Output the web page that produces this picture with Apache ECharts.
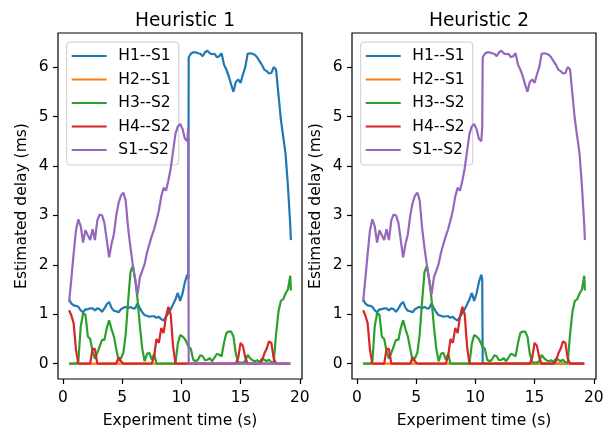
<!DOCTYPE html>
<html>
<head>
<meta charset="utf-8">
<script src="https://cdn.jsdelivr.net/npm/echarts@6/dist/echarts.min.js"></script>
<style>
html,body{margin:0;padding:0;background:#fff;}
#c{width:613px;height:434px;}
</style>
</head>
<body>
<div id="c"></div>
<script>
// ---- data ----
const seriesNames = ['H1--S1', 'H2--S1', 'H3--S2', 'H4--S2', 'S1--S2'];
const panelTitles = ['Heuristic 1', 'Heuristic 2'];
const xTicks = [0, 5, 10, 15, 20];
const yTicks = [0, 1, 2, 3, 4, 5, 6];

// experiment time (s)
const time = [
  0.52, 0.7, 0.9, 1.1, 1.3, 1.5, 1.7, 1.9, 2.1, 2.3, 2.5, 2.7, 2.9, 3.1, 3.3, 3.5, 3.7, 3.9, 4.1, 4.3,
  4.5, 4.7, 4.9, 5.1, 5.3, 5.5, 5.7, 5.9, 6.1, 6.3, 6.5, 6.7, 6.9, 7.1, 7.3, 7.5, 7.7, 7.9, 8.1, 8.3,
  8.5, 8.7, 8.9, 9.1, 9.3, 9.5, 9.7, 9.9, 10.1, 10.3, 10.5, 10.58,
  10.62, 10.8, 11.0, 11.2, 11.4, 11.6, 11.8, 12.0, 12.2, 12.4, 12.6, 12.8, 13.0, 13.2, 13.4, 13.6, 13.8,
  14.0, 14.2, 14.4, 14.6, 14.8, 15.0, 15.2, 15.4, 15.6, 15.8, 16.0, 16.2, 16.4, 16.6, 16.8, 17.0, 17.2,
  17.4, 17.6, 17.8, 18.0, 18.2, 18.4, 18.6, 18.8, 19.0, 19.2, 19.25
];

// H1--S1 before the switch (t <= 10.58)
const h1s1Early = [
  1.30, 1.22, 1.18, 1.17, 1.15, 1.08, 1.04, 1.10, 1.10, 1.12, 1.12, 1.08, 1.12, 1.10, 1.05, 1.12, 1.20, 1.25, 1.13, 1.07,
  1.06, 1.04, 1.10, 1.13, 1.15, 1.12, 1.15, 1.12, 1.12, 1.22, 1.12, 1.04, 0.98, 0.97, 0.95, 0.96, 0.96, 0.93, 0.95, 0.90,
  0.87, 0.95, 1.02, 1.10, 1.20, 1.30, 1.43, 1.27, 1.42, 1.65, 1.80, 1.72
];
// S1--S2 before the switch
const s1s2Early = [
  1.25, 1.70, 2.22, 2.70, 2.92, 2.78, 2.45, 2.70, 2.60, 2.50, 2.72, 2.50, 2.90, 3.02, 3.00, 2.85, 2.50, 2.15, 2.42, 2.62,
  3.00, 3.25, 3.40, 3.46, 3.30, 2.75, 2.35, 2.00, 1.70, 1.40, 1.75, 1.88, 2.02, 2.25, 2.42, 2.58, 2.72, 2.90, 3.10, 3.38,
  3.56, 3.50, 3.70, 3.95, 4.30, 4.65, 4.80, 4.85, 4.75, 4.55, 4.50, 4.78
];
// the high-delay path after the switch (t >= 10.62)
const switchedLate = [
  6.20, 6.27, 6.30, 6.30, 6.28, 6.27, 6.22, 6.30, 6.33, 6.28, 6.26, 6.27, 6.20, 6.22, 6.28, 6.05, 5.95,
  5.82, 5.65, 5.50, 5.70, 5.75, 5.68, 5.85, 6.00, 6.27, 6.28, 6.27, 6.25, 6.20, 6.12, 6.05, 5.95, 5.92,
  5.87, 5.88, 6.00, 5.95, 5.45, 4.95, 4.60, 4.25, 3.60, 2.80, 2.50
];
// the idle path after the switch
const idleLate = [
  0, 0, 0, 0, 0, 0, 0, 0, 0, 0, 0, 0, 0, 0, 0, 0, 0,
  0, 0, 0, 0, 0, 0, 0, 0, 0, 0, 0, 0, 0, 0, 0, 0, 0,
  0, 0, 0, 0, 0, 0, 0, 0, 0, 0, 0
];
// H2--S1 (zero throughout)
const h2s1 = [
  0, 0, 0, 0, 0, 0, 0, 0, 0, 0, 0, 0, 0, 0, 0, 0, 0, 0, 0, 0,
  0, 0, 0, 0, 0, 0, 0, 0, 0, 0, 0, 0, 0, 0, 0, 0, 0, 0, 0, 0,
  0, 0, 0, 0, 0, 0, 0, 0, 0, 0, 0, 0,
  0, 0, 0, 0, 0, 0, 0, 0, 0, 0, 0, 0, 0, 0, 0, 0, 0,
  0, 0, 0, 0, 0, 0, 0, 0, 0, 0, 0, 0, 0, 0, 0, 0, 0,
  0, 0, 0, 0, 0, 0, 0, 0, 0, 0, 0
];
// H3--S2
const h3s2 = [
  0, 0, 0, 0, 0.05, 0.75, 1.02, 0.99, 0.55, 0.50, 0.25, 0.10, 0.22, 0.35, 0.48, 0.48, 0.72, 0.88, 0.70, 0.55,
  0.30, 0.06, 0.11, 0.22, 0.60, 1.25, 1.85, 1.98, 1.70, 1.30, 0.75, 0.30, 0.05, 0.20, 0.22, 0.08, 0.20, 0, 0, 0,
  0, 0, 0, 0, 0, 0, 0.40, 0.58, 0.55, 0.50, 0.40, 0.35,
  0.33, 0.30, 0.08, 0.05, 0.08, 0.17, 0.15, 0.07, 0.08, 0.11, 0.05, 0.12, 0.20, 0.18, 0.15, 0.42, 0.62,
  0.65, 0.65, 0.55, 0.20, 0.03, 0.02, 0.02, 0.05, 0.18, 0.11, 0.07, 0.05, 0.07, 0.03, 0.10, 0.08, 0.05,
  0.08, 0.03, 0.02, 0.60, 1.05, 1.27, 1.30, 1.42, 1.50, 1.78, 1.48
];
// H4--S2
const h4s2 = [
  1.08, 0.98, 0.82, 0.28, 0, 0, 0, 0, 0, 0, 0.30, 0.30, 0, 0, 0, 0, 0, 0, 0, 0,
  0, 0.13, 0.05, 0, 0, 0, 0, 0, 0, 0, 0, 0, 0, 0, 0, 0, 0.15, 0.50, 0.42, 0.72,
  0.62, 0.95, 1.15, 1.00, 0.35, 0, 0, 0, 0, 0, 0, 0,
  0, 0, 0, 0, 0, 0, 0, 0, 0, 0, 0, 0, 0, 0, 0, 0, 0,
  0, 0, 0, 0, 0.12, 0.42, 0.36, 0.12, 0, 0, 0, 0, 0, 0, 0.05, 0.20, 0.30,
  0.45, 0.42, 0.11, 0, 0, 0, 0, 0, 0, 0, 0
];

// panel series values
const panel1 = [
  h1s1Early.concat(switchedLate),
  h2s1,
  h3s2,
  h4s2,
  s1s2Early.concat(idleLate)
];
const panel2 = [
  h1s1Early.concat(idleLate),
  h2s1,
  h3s2,
  h4s2,
  s1s2Early.concat(switchedLate)
];

// ---- chart ----
const colors = ['#1f77b4', '#ff7f0e', '#2ca02c', '#d62728', '#9467bd'];
const FONT = 'DejaVu Sans';
const FS = 15.5;
const gridLefts = [58, 352];

function pairs(vals) { return time.map((t, i) => [t, vals[i]]); }

const option = {
  animation: false,
  backgroundColor: '#fff',
  color: colors,
  title: panelTitles.map((txt, i) => ({
    text: txt,
    left: gridLefts[i] + 122,
    textAlign: 'center',
    top: 7,
    textStyle: { fontFamily: FONT, fontSize: 18.6, fontWeight: 'normal', color: '#000' }
  })),
  legend: gridLefts.map((gl) => ({
    data: seriesNames,
    orient: 'vertical',
    left: gl + 8.7,
    top: 42,
    icon: 'rect',
    itemWidth: 35,
    itemHeight: 2.2,
    itemGap: 7.5,
    padding: [6, 8, 7, 5],
    backgroundColor: 'rgba(255,255,255,0.8)',
    borderColor: '#cccccc',
    borderWidth: 1,
    borderRadius: 3,
    selectedMode: false,
    textStyle: { fontFamily: FONT, fontSize: FS, color: '#000', lineHeight: 16, padding: [0, 0, 0, 6.6] }
  })),
  grid: gridLefts.map((gl) => ({
    left: gl, top: 33, width: 244, height: 350,
    show: true, borderColor: '#000', borderWidth: 1.2, backgroundColor: 'transparent'
  })),
  xAxis: gridLefts.map((gl, i) => ({
    type: 'value', gridIndex: i, min: -0.42, max: 20.19,
    name: 'Experiment time (s)', nameLocation: 'middle', nameGap: 34,
    nameTextStyle: { fontFamily: FONT, fontSize: FS, color: '#000' },
    axisLine: { show: false, onZero: false },
    axisTick: { show: true, inside: false, length: 5, customValues: xTicks, lineStyle: { color: '#000', width: 1.2 } },
    axisLabel: { customValues: xTicks, margin: 11, fontFamily: FONT, fontSize: FS, color: '#000' },
    splitLine: { show: false }
  })),
  yAxis: gridLefts.map((gl, i) => ({
    type: 'value', gridIndex: i, min: -0.31, max: 6.69,
    name: 'Estimated delay (ms)', nameLocation: 'middle', nameGap: 28, nameRotate: 90,
    nameTextStyle: { fontFamily: FONT, fontSize: FS, color: '#000' },
    axisLine: { show: false, onZero: false },
    axisTick: { show: true, inside: false, length: 5, customValues: yTicks, lineStyle: { color: '#000', width: 1.2 } },
    axisLabel: { customValues: yTicks, margin: 9.5, fontFamily: FONT, fontSize: FS, color: '#000' },
    splitLine: { show: false }
  })),
  series: []
};

[panel1, panel2].forEach((panel, p) => {
  panel.forEach((vals, k) => {
    option.series.push({
      type: 'line',
      name: seriesNames[k],
      xAxisIndex: p,
      yAxisIndex: p,
      data: pairs(vals),
      showSymbol: false,
      symbol: 'none',
      lineStyle: { width: 2.2, color: colors[k] },
      itemStyle: { color: colors[k] },
      z: 2 + k
    });
  });
});

const chart = echarts.init(document.getElementById('c'), null, { renderer: 'canvas' });
chart.setOption(option);
</script>
</body>
</html>
